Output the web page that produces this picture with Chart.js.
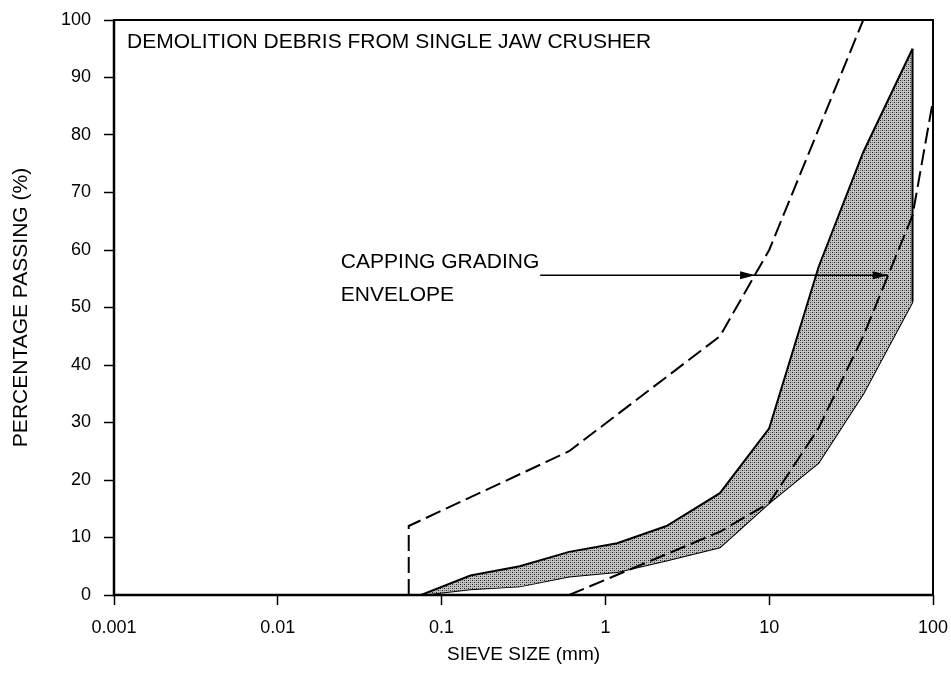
<!DOCTYPE html>
<html>
<head>
<meta charset="utf-8">
<script src="https://cdn.jsdelivr.net/npm/chart.js@4.4.0/dist/chart.umd.min.js"></script>
<style>
  html, body { margin: 0; padding: 0; background: #fff; }
  #wrap { width: 951px; height: 682px; }
</style>
</head>
<body>
<div id="wrap"><canvas id="chart"></canvas></div>
<script>
// Sieve sizes (mm) shared by both edges of the shaded band
const bandSizes = [0.075, 0.15, 0.3, 0.6, 1.18, 2.36, 5, 10, 20, 37.5, 75];
const bandUpper = [0, 3.4, 5, 7.5, 9, 12, 17.7, 29, 57, 77, 95];
const bandLower = [0, 1, 1.5, 3.2, 4, 6, 8.3, 16, 23, 35, 51];

// Capping grading envelope (dashed lines)
const envUpperSizes = [0.063, 0.063, 0.6, 5, 10, 37.5];
const envUpperPass = [0, 12, 25, 45, 60, 100];
const envLowerSizes = [0.6, 5, 10, 20, 37.5, 75, 100];
const envLowerPass = [0, 11, 16, 29, 45, 66, 86];

const xTickValues = [0.001, 0.01, 0.1, 1, 10, 100];
const xTickLabels = ['0.001', '0.01', '0.1', '1', '10', '100'];

const chartTitle = 'DEMOLITION DEBRIS FROM SINGLE JAW CRUSHER';
const noteLines = ['CAPPING GRADING', 'ENVELOPE'];
const arrowLevel = 55.6;   // % passing where the pointer line runs
const arrowFrom = 0.4;     // mm, start of pointer line
const arrowTips = [8.2, 53]; // mm, arrowheads touch the two envelope lines

const FONT = '"Liberation Sans", Arial, Helvetica, sans-serif';
Chart.defaults.font.family = FONT;
Chart.defaults.color = '#000';

const pts = (xs, ys) => xs.map((v, i) => ({ x: v, y: ys[i] }));

// stipple fill like the scanned band
function stipple() {
    const c = document.createElement('canvas');
    c.width = 4; c.height = 4;
    const g = c.getContext('2d');
    g.fillStyle = '#c4c4c4';
    g.fillRect(0, 0, 4, 4);
    g.fillStyle = '#1e1e1e';
    g.fillRect(0, 0, 1, 1);
    g.fillRect(2, 2, 1, 1);
    g.fillStyle = '#7a7a7a';
    g.fillRect(2, 0, 1, 1);
    g.fillRect(0, 2, 1, 1);
    return g.createPattern(c, 'repeat');
}

const decorations = {
    id: 'decorations',
    afterDatasetsDraw(chart) {
        const { ctx, chartArea: a, scales: { x, y } } = chart;
        ctx.save();
        ctx.strokeStyle = '#000';
        ctx.lineWidth = 2;
        ctx.strokeRect(a.left, a.top, a.right - a.left, a.bottom - a.top);
        // heavier left and bottom axis lines
        ctx.lineWidth = 2.5;
        ctx.beginPath();
        ctx.moveTo(a.left, a.top);
        ctx.lineTo(a.left, a.bottom);
        ctx.lineTo(a.right, a.bottom);
        ctx.stroke();

        ctx.fillStyle = '#000';
        ctx.font = '21px ' + FONT;
        ctx.textBaseline = 'alphabetic';
        ctx.textAlign = 'left';
        ctx.fillText(chartTitle, a.left + 13, a.top + 28);

        // note text sits just above the pointer line, ending where it starts
        const ly = y.getPixelForValue(arrowLevel);
        const lx = x.getPixelForValue(arrowFrom);
        const tx = lx - ctx.measureText(noteLines[0]).width - 1;
        noteLines.forEach((t, i) => ctx.fillText(t, tx, ly - 7 + i * 33));

        arrowTips.forEach(v => {
            const px = x.getPixelForValue(v);
            ctx.beginPath();
            ctx.moveTo(px, ly);
            ctx.lineTo(px - 15, ly - 4);
            ctx.lineTo(px - 15, ly + 4);
            ctx.closePath();
            ctx.fill();
        });
        ctx.restore();
    }
};

const n = bandSizes.length - 1;

// datasets listed first are drawn on top, so the band goes last
new Chart(document.getElementById('chart'), {
    type: 'line',
    data: {
        datasets: [
            {
                data: pts(envUpperSizes, envUpperPass),
                borderColor: '#000', borderWidth: 2, borderDash: [16, 6],
                fill: false
            },
            {
                data: pts(envLowerSizes, envLowerPass),
                borderColor: '#000', borderWidth: 2, borderDash: [16, 6],
                fill: false
            },
            {
                data: [{ x: arrowFrom, y: arrowLevel }, { x: arrowTips[1], y: arrowLevel }],
                borderColor: '#000', borderWidth: 1.5,
                fill: false
            },
            {
                data: [{ x: bandSizes[n], y: bandLower[n] }, { x: bandSizes[n], y: bandUpper[n] }],
                borderColor: '#000', borderWidth: 2,
                fill: false
            },
            {
                data: pts(bandSizes, bandUpper),
                borderColor: '#000', borderWidth: 2,
                backgroundColor: stipple(),
                fill: '+1'
            },
            {
                data: pts(bandSizes, bandLower),
                borderColor: '#000', borderWidth: 2,
                fill: false
            }
        ]
    },
    options: {
        responsive: true,
        maintainAspectRatio: false,
        animation: false,
        elements: { point: { radius: 0 }, line: { tension: 0 } },
        layout: { padding: { left: 0, top: 20, right: 18, bottom: 0 } },
        plugins: { legend: { display: false }, tooltip: { enabled: false } },
        scales: {
            x: {
                type: 'logarithmic',
                min: 0.001, max: 100,
                afterBuildTicks: s => { s.ticks = xTickValues.map(v => ({ value: v })); },
                afterFit: s => { s.height = 87; s.paddingLeft = 0; s.paddingRight = 0; },
                border: { display: false },
                grid: { drawOnChartArea: false, drawTicks: true, tickLength: 10, color: '#000', tickWidth: 1.5 },
                ticks: {
                    autoSkip: false, maxRotation: 0, padding: 12,
                    font: { size: 18 },
                    callback: (v, i) => xTickLabels[i]
                },
                title: { display: true, text: 'SIEVE SIZE (mm)', font: { size: 19 }, padding: { top: 4, bottom: 16 } }
            },
            y: {
                min: 0, max: 100,
                afterFit: s => { s.width = 114; s.paddingTop = 0; s.paddingBottom = 0; },
                border: { display: false },
                grid: { drawOnChartArea: false, drawTicks: true, tickLength: 10, color: '#000', tickWidth: 1.5 },
                ticks: { stepSize: 10, padding: 13, font: { size: 18 } },
                title: { display: true, text: 'PERCENTAGE PASSING (%)', font: { size: 21 }, padding: { top: 9, bottom: 0 } }
            }
        }
    },
    plugins: [decorations]
});
</script>
</body>
</html>
